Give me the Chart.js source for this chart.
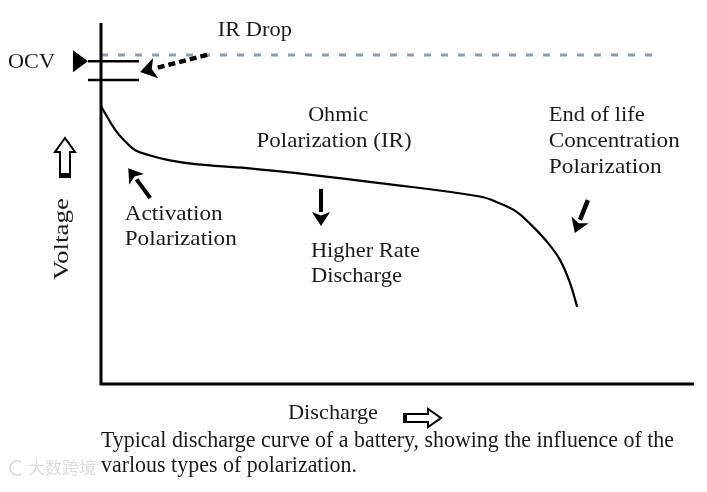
<!DOCTYPE html>
<html>
<head>
<meta charset="utf-8">
<script src="https://cdn.jsdelivr.net/npm/chart.js@4.4.0/dist/chart.umd.min.js"></script>
<style>
  html, body { margin: 0; padding: 0; background: #fff; }
  #warm { position: absolute; left: -999px; top: 0; font-family: "Liberation Serif"; }
</style>
</head>
<body>
<span id="warm">Liberation Serif 大数跨境</span>
<canvas id="c" width="707" height="492"></canvas>
<script>
// discharge curve (x = discharge, y = voltage, arbitrary units 0..100)
const dischargeX = [0.0, 2.4, 4.1, 5.7, 8.0, 11.4, 15.9, 24.6, 35.8, 47.0, 63.9, 67.3, 70.1, 72.3, 75.2, 77.4, 79.1, 80.3]
const voltageY = [76.3, 69.8, 66.6, 64.3, 62.9, 61.5, 60.4, 59.3, 57.4, 55.2, 51.5, 49.6, 47.3, 44.1, 39.1, 34.1, 27.7, 21.2]
// open circuit voltage (dashed) and the IR drop marks
const ocvLevel = 90.4
const ocvEndX = 94.6
const irMarks = [88.7, 83.5]
const irMarkX = [-2.2, 6.4]

const caption = [
  "Typical discharge curve of a battery, showing the influence of the",
  "varlous types of polarization."
]

const curve = dischargeX.map((x, i) => ({ x: x, y: voltageY[i] }))

const SERIF = '"Liberation Serif", "Times New Roman", serif'

// draws text squeezed/stretched to a given width
function fitText(ctx, str, x, y, w, size, align) {
  ctx.font = size + "px " + SERIF
  const m = ctx.measureText(str).width
  ctx.save()
  ctx.translate(x, y)
  ctx.scale(w / m, 1)
  ctx.textAlign = align || "left"
  ctx.textBaseline = "middle"
  ctx.fillStyle = "#1a1a1a"
  ctx.fillText(str, 0, 0)
  ctx.restore()
}

function arrow(ctx, x1, y1, x2, y2, width, head, dash) {
  const ang = Math.atan2(y2 - y1, x2 - x1)
  const bx = x2 - Math.cos(ang) * head, by = y2 - Math.sin(ang) * head
  ctx.save()
  ctx.strokeStyle = "#000"
  ctx.fillStyle = "#000"
  ctx.lineWidth = width
  if (dash) ctx.setLineDash(dash)
  ctx.beginPath()
  ctx.moveTo(x1, y1)
  ctx.lineTo(bx, by)
  ctx.stroke()
  ctx.setLineDash([])
  const hw = head * 0.65
  ctx.beginPath()
  ctx.moveTo(x2, y2)
  ctx.lineTo(bx + Math.sin(ang) * hw, by - Math.cos(ang) * hw)
  ctx.lineTo(bx + Math.cos(ang) * head * 0.25, by + Math.sin(ang) * head * 0.25)
  ctx.lineTo(bx - Math.sin(ang) * hw, by + Math.cos(ang) * hw)
  ctx.closePath()
  ctx.fill()
  ctx.restore()
}

const notes = {
  id: "notes",
  afterDatasetsDraw(chart) {
    const { ctx, chartArea: a, scales } = chart
    const X = (v) => scales.x.getPixelForValue(v)
    const Y = (v) => scales.y.getPixelForValue(v)
    ctx.save()

    // axes
    ctx.strokeStyle = "#000"
    ctx.lineWidth = 3
    ctx.beginPath()
    ctx.moveTo(a.left, a.top + 3)
    ctx.lineTo(a.left, a.bottom)
    ctx.lineTo(a.right, a.bottom)
    ctx.stroke()

    // OCV pointer triangle
    ctx.fillStyle = "#000"
    ctx.beginPath()
    ctx.moveTo(X(irMarkX[0]), Y(irMarks[0]))
    ctx.lineTo(X(irMarkX[0]) - 15, Y(irMarks[0]) - 11)
    ctx.lineTo(X(irMarkX[0]) - 15, Y(irMarks[0]) + 11)
    ctx.closePath()
    ctx.fill()

    // labels inside the plot
    fitText(ctx, "IR Drop", X(19.7), Y(97.0), 74, 21)
    fitText(ctx, "Ohmic", X(40.0), Y(73.9), 60, 21, "center")
    fitText(ctx, "Polarization (IR)", X(39.3), Y(66.5), 155, 21, "center")
    fitText(ctx, "End of life", X(75.5), Y(73.9), 96, 21)
    fitText(ctx, "Concentration", X(75.5), Y(66.5), 131, 21)
    fitText(ctx, "Polarization", X(75.5), Y(59.6), 113, 21)
    fitText(ctx, "Activation", X(4.0), Y(46.7), 98, 21)
    fitText(ctx, "Polarization", X(4.0), Y(39.6), 112, 21)
    fitText(ctx, "Higher Rate", X(35.4), Y(36.3), 109, 21)
    fitText(ctx, "Discharge", X(35.4), Y(29.4), 91, 21)

    // arrows
    arrow(ctx, X(17.9), Y(ocvLevel), X(6.6), Y(85.7), 4.5, 16, [7, 4])
    arrow(ctx, X(8.3), Y(51.1), X(4.6), Y(59.3), 4, 14)
    arrow(ctx, X(37.1), Y(53.6), X(37.1), Y(43.4), 4, 14)
    arrow(ctx, X(82.1), Y(50.5), X(79.9), Y(41.5), 4.5, 14)

    // outside the plot
    fitText(ctx, "OCV", a.left - 93, Y(irMarks[0]) + 1, 47, 21)

    ctx.save()
    ctx.translate(a.left - 39, 239)
    ctx.rotate(-Math.PI / 2)
    fitText(ctx, "Voltage", 0, 0, 82, 21, "center")
    ctx.restore()

    // hollow up arrow
    const ux = a.left - 36
    ctx.strokeStyle = "#000"
    ctx.lineWidth = 2
    ctx.beginPath()
    ctx.moveTo(ux - 5, 177)
    ctx.lineTo(ux - 5, 152)
    ctx.lineTo(ux - 10, 152)
    ctx.lineTo(ux, 138)
    ctx.lineTo(ux + 10, 152)
    ctx.lineTo(ux + 5, 152)
    ctx.lineTo(ux + 5, 177)
    ctx.closePath()
    ctx.stroke()
    ctx.fillRect(ux - 5, 173, 10, 4)

    fitText(ctx, "Discharge", a.left + 187, a.bottom + 29, 90, 21)

    // hollow right arrow
    const ry = a.bottom + 34
    ctx.beginPath()
    ctx.moveTo(404, ry - 4)
    ctx.lineTo(428, ry - 4)
    ctx.lineTo(428, ry - 9)
    ctx.lineTo(441, ry)
    ctx.lineTo(428, ry + 9)
    ctx.lineTo(428, ry + 4)
    ctx.lineTo(404, ry + 4)
    ctx.closePath()
    ctx.stroke()
    ctx.fillRect(403, ry - 4, 4, 9)

    fitText(ctx, caption[0], a.left, a.bottom + 57, 573, 23)
    fitText(ctx, caption[1], a.left, a.bottom + 82, 256, 23)

    // watermark
    ctx.globalAlpha = 0.35
    ctx.strokeStyle = "#888"
    ctx.lineWidth = 1.5
    ctx.beginPath()
    ctx.arc(17, 468, 7, Math.PI * 0.3, Math.PI * 1.7)
    ctx.stroke()
    ctx.font = '17px "Noto Sans CJK SC"'
    ctx.textBaseline = "middle"
    ctx.fillStyle = "#999"
    ctx.fillText("大数跨境", 28, 468)
    ctx.restore()
  }
}

function draw() {
  new Chart(document.getElementById("c"), {
    type: "line",
    data: {
      datasets: [
        {
          data: curve,
          borderColor: "#000",
          borderWidth: 2.2,
          pointRadius: 0,
          tension: 0.4
        },
        {
          data: [{ x: 0, y: ocvLevel }, { x: ocvEndX, y: ocvLevel }],
          borderColor: "#8d9cb6",
          borderWidth: 3,
          borderDash: [7, 10],
          pointRadius: 0
        },
        {
          data: irMarkX.map((x) => ({ x: x, y: irMarks[0] })),
          borderColor: "#000",
          borderWidth: 2.5,
          pointRadius: 0,
          clip: false
        },
        {
          data: irMarkX.map((x) => ({ x: x, y: irMarks[1] })),
          borderColor: "#000",
          borderWidth: 2.5,
          pointRadius: 0,
          clip: false
        }
      ]
    },
    options: {
      responsive: false,
      animation: false,
      devicePixelRatio: 1,
      layout: { padding: { left: 101, right: 13, top: 20, bottom: 108 } },
      plugins: { legend: { display: false }, tooltip: { enabled: false } },
      scales: {
        x: { type: "linear", min: 0, max: 100, display: false },
        y: { type: "linear", min: 0, max: 100, display: false }
      }
    },
    plugins: [notes]
  })
}

document.fonts.load('21px "Liberation Serif"').then(draw, draw)
</script>
</body>
</html>
